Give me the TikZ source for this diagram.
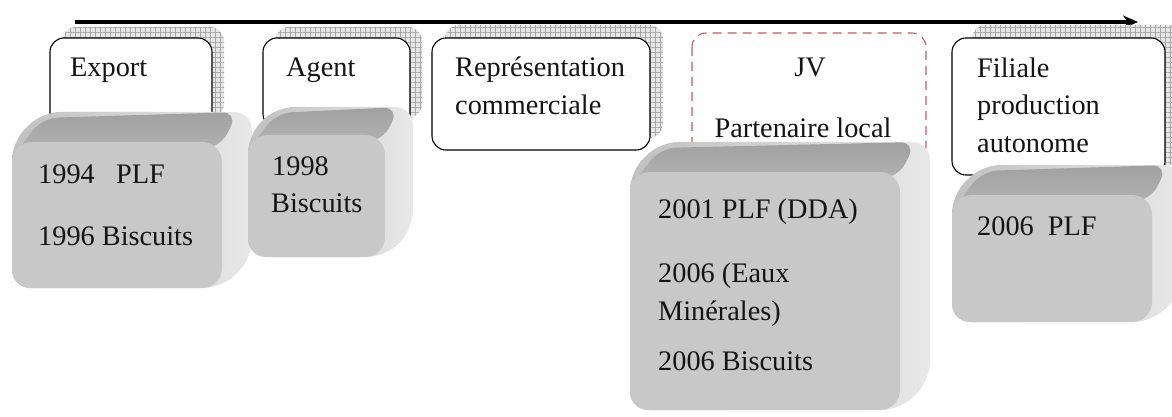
\documentclass[tikz,border=0pt]{standalone}
\usepackage{fontspec}
\setmainfont{Liberation Serif}
\usetikzlibrary{patterns.meta,arrows.meta}
\definecolor{frontgray}{HTML}{C8C8C8}
\definecolor{topgray}{HTML}{A9A9A9}
\definecolor{sidelight}{HTML}{E8E8E8}
\definecolor{sidedark}{HTML}{C0C0C0}
\definecolor{jvred}{HTML}{C85868}
\definecolor{gridfill}{HTML}{E6E6E6}
\definecolor{gridline}{HTML}{A8A8A8}
\tikzset{
  txt/.style={anchor=base west, inner sep=0pt, text=black!92, font=\fontsize{28.3}{34}\selectfont},
  whitebox/.style={draw=black, line width=1.1pt, fill=white, rounded corners=14pt},
  jvbox/.style={draw=jvred, line width=1.1pt, dash pattern=on 9pt off 6pt, rounded corners=14pt},
  gridshadow/.style={rounded corners=14pt, fill=gridfill,
    postaction={pattern={Hatch[angle=0,distance=5pt,line width=0.5pt]}, pattern color=gridline}},
  timeline/.style={line width=3.4pt, -{Stealth[length=15pt,width=13pt]}},
}
\newcommand\gcube[5]{%
  \shade[left color=sidedark, right color=sidelight, rounded corners=18pt]
    (#1,#2) -- (#1+#5,#2-#5) -- (#3+#5,#2-#5) -- (#3+#5,#4-#5) -- (#3,#4) -- (#1,#4) -- cycle;
  \shade[top color=topgray!95!black, bottom color=topgray!85!white, rounded corners=16pt]
    (#1,#2+16) -- (#1+#5,#2-#5+6) -- (#3+#5-14,#2-#5) -- (#3-2,#2+6) -- cycle;
  \fill[frontgray, rounded corners=20pt] (#1,#2) rectangle (#3,#4);
}
\begin{document}
\begin{tikzpicture}[x=1pt,y=-1pt]
\useasboundingbox (0,0) rectangle (1172,417);
\clip (0,0) rectangle (1172,417);
% timeline
\coordinate (tstart) at (75,22);
\coordinate (tend) at (1138,22);
\draw[timeline] (tstart) -- (tend);
% shadows
\path[gridshadow] (62,27) rectangle (224,118);
\path[gridshadow] (275,27) rectangle (422,118);
\path[gridshadow] (445,25) rectangle (663,138);
\path[gridshadow] (972,25) rectangle (1185,165);
% white boxes
\path[whitebox] (50,38) rectangle (212,130);
\path[whitebox] (263,38) rectangle (410,128);
\path[whitebox] (432,38) rectangle (650,150);
\path[jvbox] (692,33) rectangle (926,160);
\path[whitebox] (952,38) rectangle (1165,175);
% cubes
\gcube{12}{142}{222}{288}{30}
\gcube{248}{135}{385}{257}{28}
\gcube{630}{172}{900}{410}{30}
\gcube{952}{195}{1152}{322}{30}
% texts
\node[txt] (export) at (70,77) {Export};
\node[txt] (agent) at (286,77) {Agent};
\node[txt] (rep1) at (455,77) {Représentation};
\node[txt] (rep2) at (455,115) {commerciale};
\node[txt, anchor=base] (jv) at (810,77) {JV};
\node[txt, anchor=base] (part) at (803,138) {Partenaire local};
\node[txt] (fil1) at (977,78) {Filiale};
\node[txt] (fil2) at (977,115) {production};
\node[txt] (fil3) at (977,152) {autonome};
\node[txt] (c1a) at (38,183) {1994\hspace{0.75em}PLF};
\node[txt] (c1b) at (38,245) {1996 Biscuits};
\node[txt] (c2a) at (272,175) {1998};
\node[txt] (c2b) at (271,212) {Biscuits};
\node[txt] (c4a) at (658,218) {2001 PLF (DDA)};
\node[txt] (c4b) at (658,282) {2006 (Eaux};
\node[txt] (c4c) at (658,320) {Minérales)};
\node[txt] (c4d) at (658,370) {2006 Biscuits};
\node[txt] (c5a) at (977,235) {2006\hspace{0.5em}PLF};
\end{tikzpicture}
\end{document}
